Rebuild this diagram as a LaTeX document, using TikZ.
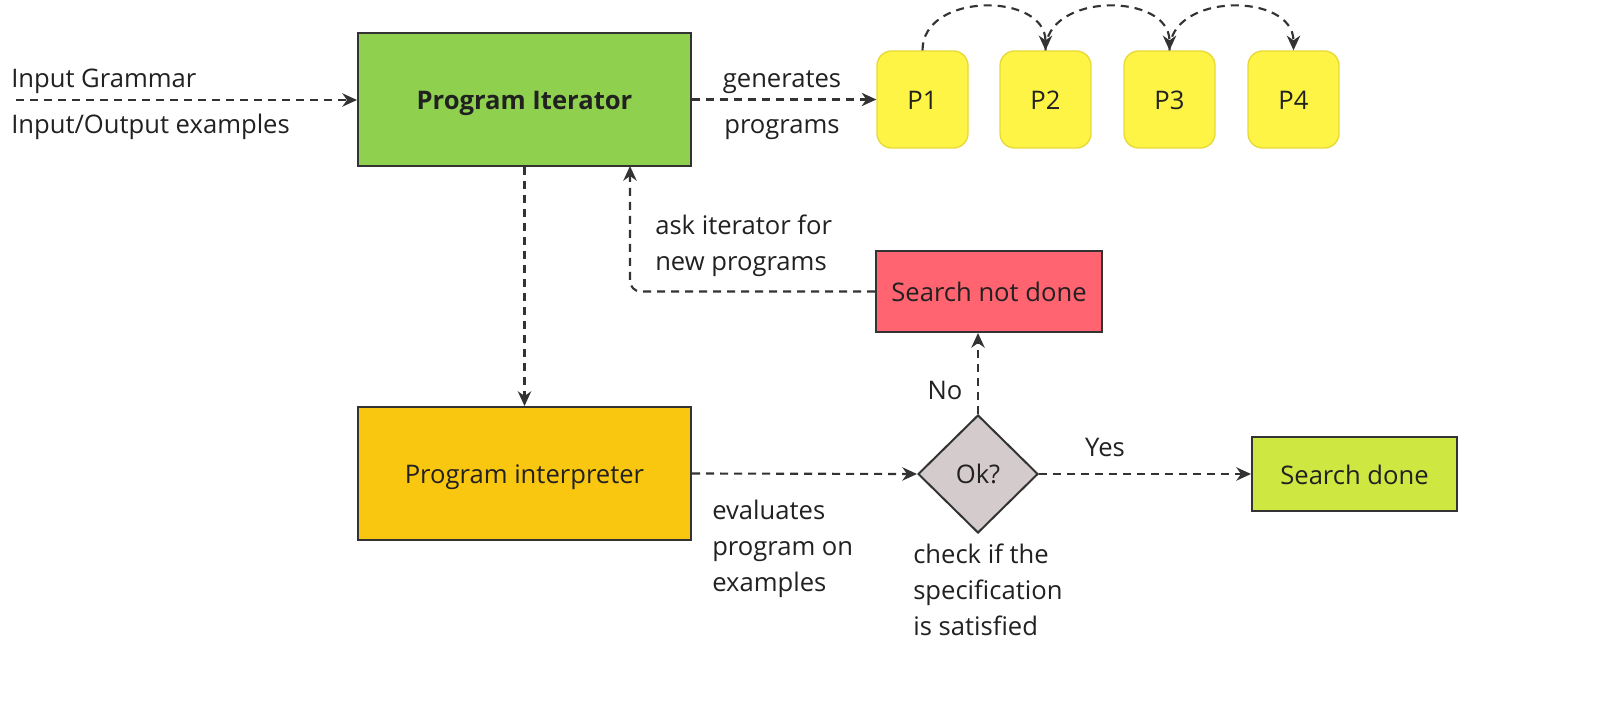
\documentclass[tikz,border=0pt]{standalone}
\usepackage{fontspec}
\setmainfont{Open Sans}
\usetikzlibrary{shapes.geometric,arrows.meta}
\definecolor{lineC}{HTML}{333333}
\definecolor{greenC}{HTML}{8FD14F}
\definecolor{yellowC}{HTML}{FEF445}
\definecolor{yellowB}{HTML}{E8D935}
\definecolor{orangeC}{HTML}{FAC710}
\definecolor{redC}{HTML}{FF6470}
\definecolor{limeC}{HTML}{CEE741}
\definecolor{greyC}{HTML}{D4CCCC}
\begin{document}
\begin{tikzpicture}[x=0.75pt,y=-0.75pt,
  every node/.style={font=\fontsize{19.2}{27.2}\selectfont, text=black!87},
  box/.style={draw=lineC, line width=1.5pt, inner sep=0pt, text height=15.5pt, text depth=0pt},
  prog/.style={draw=yellowB, line width=1pt, fill=yellowC, rounded corners=11pt,
    minimum width=68.25pt, minimum height=72.75pt, inner sep=0pt, text height=15.5pt, text depth=0pt},
  conn/.style={draw=lineC, line width=1.6pt, dash pattern=on 6pt off 4.5pt,
    -{Stealth[length=11pt,width=10pt,inset=3.5pt]}},
  lbl/.style={inner sep=0pt},
  slbl/.style={inner sep=0pt, text height=13.7pt, text depth=0pt}]
\useasboundingbox (0,0) rectangle (1623,709);
\fill[white] (0,0) rectangle (1623,709);

% main boxes
\node[box, fill=greenC, minimum width=249.75pt, minimum height=99.75pt] (iter) at (524.5,99.5) {\textbf{Program Iterator}};
\node[box, fill=orangeC, minimum width=249.75pt, minimum height=99.75pt] (interp) at (524.5,473.5) {Program interpreter};
\node[box, fill=redC, minimum width=169.5pt, minimum height=60.75pt] (snd) at (989,291.5) {Search not done};
\node[box, fill=limeC, minimum width=153.75pt, minimum height=55.5pt] (sd) at (1354.5,474) {Search done};
\node[draw=lineC, line width=1.5pt, fill=greyC, diamond, minimum width=90pt, minimum height=88.5pt, inner sep=0pt] (ok) at (978,474) {Ok?};

% programs
\node[prog] (p1) at (922.5,99.5) {P1};
\node[prog] (p2) at (1045.5,99.5) {P2};
\node[prog] (p3) at (1169.5,99.5) {P3};
\node[prog] (p4) at (1293.5,99.5) {P4};

% input
\coordinate (in) at (16,100);
\node[slbl, anchor=west] (ig) at (11,78) {Input Grammar};
\node[slbl, anchor=west] (io) at (11,124) {Input/Output examples};
\draw[conn] (in) -- (iter.west |- in);

% generates
\node[slbl] (gen) at (782,78) {generates};
\node[slbl] (gpr) at (782,124) {programs};
\draw[conn] (iter.east) -- (p1.west);

% arcs
\draw[conn] (p1.north) .. controls (922.5,-8) and (1045.5,-8) .. (p2.north);
\draw[conn] (p2.north) .. controls (1045.5,-8) and (1169.5,-8) .. (p3.north);
\draw[conn] (p3.north) .. controls (1169.5,-8) and (1293.5,-8) .. (p4.north);

% iterator to interpreter
\draw[conn] (iter.south) -- (interp.north);

% interpreter to ok
\draw[conn] (interp.east) -- (ok.west);
\node[lbl, anchor=west, align=left] (ev) at (712,549) {evaluates\\program on\\examples};
\node[lbl, anchor=west, align=left] (chk) at (913,590) {check if the\\specification\\is satisfied};

% ok to search done
\draw[conn] (ok.east) -- (sd.west);
\node[slbl] (yes) at (1105,447) {Yes};

% ok to search not done
\draw[conn] (ok.north) -- (ok.north |- snd.south);
\node[slbl] (no) at (945,390) {No};

% back to iterator
\coordinate (ret) at (630,166);
\draw[conn, rounded corners=8pt] (snd.west) -| (ret);
\node[lbl, anchor=west, align=left] (ask) at (655,246) {ask iterator for\\new programs};
\end{tikzpicture}
\end{document}
